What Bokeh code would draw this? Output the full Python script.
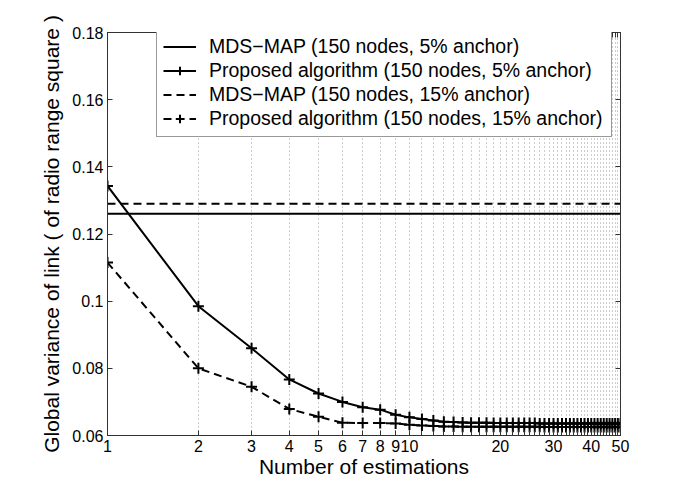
from bokeh.plotting import figure
from bokeh.models import (FixedTicker, CustomJSTickFormatter, LinearAxis, LogAxis,
                          Legend, LegendItem, Range1d)
from bokeh.embed import file_html
from bokeh.resources import INLINE

# ---- data ----
x_est = list(range(1, 51))
proposed_5 = [0.1343, 0.0985, 0.0860, 0.0767, 0.0725, 0.0700, 0.0684, 0.0677, 0.0662, 0.0654,
              0.0649, 0.0645, 0.0641, 0.0640, 0.0639, 0.0638, 0.0638, 0.0638, 0.0637, 0.0637,
              0.0637, 0.0637, 0.0637, 0.0637, 0.0637, 0.0637, 0.0636, 0.0636, 0.0636, 0.0636,
              0.0636, 0.0636, 0.0636, 0.0636, 0.0636, 0.0636, 0.0636, 0.0636, 0.0636, 0.0636,
              0.0636, 0.0636, 0.0636, 0.0636, 0.0636, 0.0636, 0.0636, 0.0636, 0.0636, 0.0636]
proposed_15 = [0.1115, 0.0800, 0.0745, 0.0679, 0.0656, 0.0638, 0.0637, 0.0637, 0.0636, 0.0632,
               0.0630, 0.0628, 0.0627, 0.0627, 0.0626, 0.0626, 0.0626, 0.0626, 0.0626, 0.0626,
               0.0626, 0.0626, 0.0626, 0.0626, 0.0626, 0.0626, 0.0626, 0.0625, 0.0625, 0.0625,
               0.0625, 0.0625, 0.0625, 0.0625, 0.0625, 0.0625, 0.0625, 0.0625, 0.0625, 0.0625,
               0.0625, 0.0625, 0.0625, 0.0625, 0.0625, 0.0625, 0.0625, 0.0625, 0.0625, 0.0625]
mds_x = [1, 50]
mds_5 = [0.1260, 0.1260]
mds_15 = [0.1290, 0.1290]

labels = ["MDS\u2212MAP (150 nodes, 5% anchor)",
          "Proposed algorithm (150 nodes, 5% anchor)",
          "MDS\u2212MAP (150 nodes, 15% anchor)",
          "Proposed algorithm (150 nodes, 15% anchor)"]
x_all_ticks = list(range(1, 51))
x_tick_labels = [1, 2, 3, 4, 5, 6, 7, 8, 9, 10, 20, 30, 40, 50]
x_unlabeled = [t for t in x_all_ticks if t not in x_tick_labels]
y_ticks = [0.06, 0.08, 0.10, 0.12, 0.14, 0.16, 0.18]

FONT = "Liberation Sans"
DASH = "8 5"
AX = "#333333"

p = figure(x_axis_type="log", x_range=Range1d(1, 50), y_range=Range1d(0.06, 0.18),
           frame_width=513, frame_height=403,
           min_border_left=107, min_border_top=32, min_border_right=40, min_border_bottom=40,
           output_backend="svg", toolbar_location=None, background_fill_color="white",
           border_fill_color="white")
p.outline_line_color = AX

xfmt = CustomJSTickFormatter(code="return String(Math.round(tick));")
yfmt = CustomJSTickFormatter(code="var s = tick.toFixed(2); if (s.endsWith('0')) s = s.slice(0, -1); return s;")

xt = FixedTicker(ticks=x_tick_labels, minor_ticks=x_unlabeled)
yt = FixedTicker(ticks=y_ticks, minor_ticks=[])

p.xaxis.ticker = xt
p.xaxis.formatter = xfmt
p.yaxis.ticker = yt
p.yaxis.formatter = yfmt
for ax in (p.xaxis[0], p.yaxis[0]):
    ax.major_tick_in = 5
    ax.major_tick_out = 0
    ax.minor_tick_in = 5
    ax.minor_tick_out = 0
    ax.axis_line_color = AX
    ax.major_tick_line_color = AX
    ax.minor_tick_line_color = AX
    ax.major_label_text_font = FONT
    ax.major_label_text_font_size = "16px"
    ax.major_label_text_color = "black"
    ax.axis_label_text_font = FONT
    ax.axis_label_text_font_size = "21px"
    ax.axis_label_text_font_style = "normal"
    ax.axis_label_text_color = "black"
p.xaxis.axis_label = "Number of estimations"
p.yaxis.axis_label = "Global variance of link ( of radio range square )"
p.xaxis.major_label_standoff = 4
p.yaxis.major_label_standoff = 4
p.xaxis.axis_label_standoff = 0
p.yaxis.axis_label_standoff = 6

top = LogAxis(ticker=FixedTicker(ticks=[], minor_ticks=x_all_ticks),
              major_tick_in=0, major_tick_out=0, minor_tick_in=5, minor_tick_out=0,
              axis_line_color=AX, minor_tick_line_color=AX)
right = LinearAxis(ticker=FixedTicker(ticks=[], minor_ticks=y_ticks),
                   major_tick_in=0, major_tick_out=0, minor_tick_in=5, minor_tick_out=0,
                   axis_line_color=AX, minor_tick_line_color=AX)
p.add_layout(top, "above")
p.add_layout(right, "right")

p.xgrid.ticker = xt
p.xgrid.grid_line_color = "#9a9a9a"
p.xgrid.grid_line_dash = "1 3"
p.xgrid.grid_line_width = 1
p.xgrid.minor_grid_line_color = "#9a9a9a"
p.xgrid.minor_grid_line_dash = "1 3"
p.xgrid.minor_grid_line_width = 1
p.ygrid.grid_line_color = None

r1 = p.line(mds_x, mds_5, line_color="black", line_width=2)
r2l = p.line(x_est, proposed_5, line_color="black", line_width=2)
r2m = p.scatter(x_est, proposed_5, marker="cross", size=11, line_color="black", line_width=2)
r3 = p.line(mds_x, mds_15, line_color="black", line_width=2, line_dash=DASH)
r4l = p.line(x_est, proposed_15, line_color="black", line_width=2, line_dash=DASH)
r4m = p.scatter(x_est, proposed_15, marker="cross", size=11, line_color="black", line_width=2)

legend = Legend(items=[LegendItem(label=labels[0], renderers=[r1]),
                       LegendItem(label=labels[1], renderers=[r2l, r2m]),
                       LegendItem(label=labels[2], renderers=[r3]),
                       LegendItem(label=labels[3], renderers=[r4l, r4m])],
                location=(49, 298), label_text_font=FONT, label_text_font_size="19.5px",
                label_text_color="black", glyph_width=33, glyph_height=21, label_height=21,
                label_width=396, label_standoff=13, spacing=1, padding=6, margin=0,
                border_line_color=AX, border_line_width=1,
                background_fill_color="white", background_fill_alpha=1.0)
p.add_layout(legend, "center")

open("out.html", "w").write(file_html(p, INLINE))
